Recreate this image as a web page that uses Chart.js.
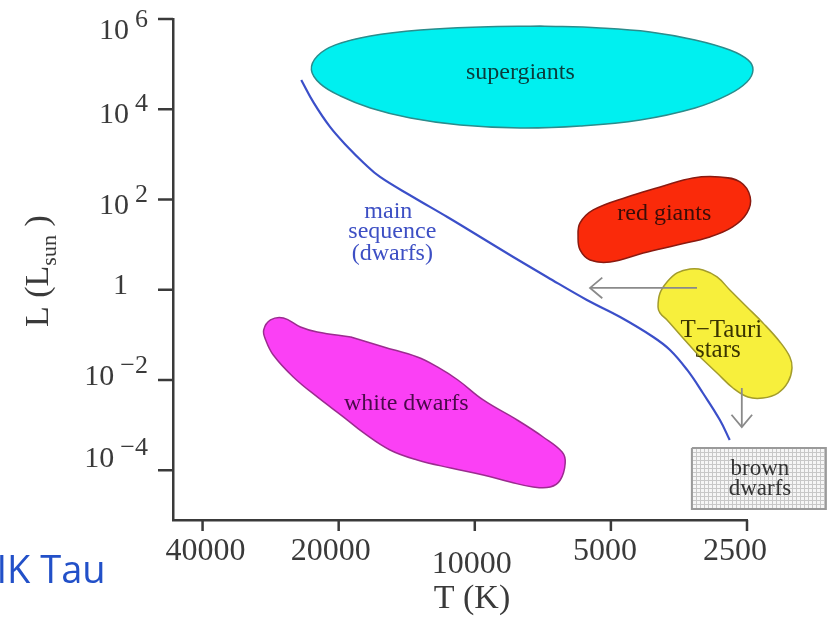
<!DOCTYPE html>
<html><head><meta charset="utf-8">
<script src="https://cdn.jsdelivr.net/npm/chart.js@4.4.1/dist/chart.umd.min.js"></script>
<style>html,body{margin:0;padding:0;background:#fff;}#wrap{width:829px;height:617px;}</style>
</head><body><div id="wrap"><canvas id="c" width="829" height="617"></canvas></div>
<script>
// ---- axes ----
const xRange = [2500, 46500];          // T (K), reversed
const yRange = [7.9e-6, 1e6];          // L (Lsun)
const xTickValues = [40000, 20000, 10000, 5000, 2500];
const xTickLabels = ['40000', '20000', '10000', '5000', '2500'];
const yTickValues = [1e6, 1e4, 1e2, 1, 1e-2, 1e-4];
const yTickBase = ['10', '10', '10', '1', '10', '10'];
const yTickExp = ['6', '4', '2', '', '\u22122', '\u22124'];

// ---- main sequence ----
const msT = [24200, 22700, 20900, 19100, 17600, 16200, 13700, 11500, 9720, 8220, 6920, 5650, 4770, 4030, 3700, 3390, 3130, 2870, 2730];
const msL = [44700, 13800, 4060, 1460, 646, 316, 114, 41, 14.8, 5.33, 1.92, 0.594, 0.249, 0.0899, 0.0463, 0.0167, 0.00515, 0.0013, 0.000468];

// ---- region outlines ----
const sgT = [7167, 5279, 4096, 3257, 2728, 2488, 2425, 2501, 2755, 3257, 4308, 5847, 7930, 10770, 13880, 17020, 19820, 21950, 22980, 22290, 20330, 17020, 13200, 9723, 7167];
const sgL = [703000, 635000, 518000, 344000, 206000, 124000, 74400, 40300, 20800, 10700, 5800, 4270, 3860, 4500, 6420, 10700, 19700, 36400, 74400, 152000, 267000, 422000, 573000, 668000, 703000];

const rgT = [3890, 3290, 2870, 2590, 2460, 2500, 2690, 3020, 3570, 4240, 5020, 5560, 5850, 5910, 5850, 5470, 4600, 3890];
const rgL = [190, 301, 316, 245, 114, 50.4, 24.6, 14.8, 9.84, 6.53, 4.13, 4.57, 7.62, 14.8, 30.2, 58.7, 114, 190];

const ttT = [3175, 3464, 3756, 3893, 3933, 3893, 3756, 3569, 3341, 3128, 2912, 2728, 2501, 2305, 2114, 2010, 1988, 2028, 2135, 2305, 2488, 2685, 2912, 3175];
const ttL = [0.0324, 0.0853, 0.214, 0.306, 0.415, 0.849, 1.49, 2.36, 2.89, 2.75, 1.92, 0.989, 0.415, 0.184, 0.0697, 0.0324, 0.0185, 0.00904, 0.00515, 0.00399, 0.00420, 0.00665, 0.0143, 0.0324];

const wdT = [18800, 15900, 13400, 12100, 10900, 9580, 8060, 7060, 6410, 6310, 6470, 6810, 7430, 8350, 9580, 11300, 13400, 15400, 17600, 19500, 22300, 25200, 27900, 29000, 29300, 28300, 26500, 24300, 22300, 18800];
const wdL = [0.090, 0.054, 0.0324, 0.0195, 0.0100, 0.00361, 0.00130, 0.000546, 0.000254, 0.000145, 6.08e-5, 4.26e-5, 4.26e-5, 5.48e-5, 7.85e-5, 1.12e-4, 1.69e-4, 2.81e-4, 6.70e-4, 1.51e-3, 4.21e-3, 0.0117, 0.0359, 0.0771, 0.128, 0.214, 0.237, 0.150, 0.116, 0.090];

const bdT = [3310, 1673, 1673, 3310, 3310];
const bdL = [3.11e-4, 3.11e-4, 1.38e-5, 1.38e-5, 3.11e-4];

// ---- arrows ----
const arrowLeftT = [3225, 5560];
const arrowLeftL = [1.1, 1.1];
const arrowDownT = [2567, 2567];
const arrowDownL = [0.00665, 0.000908];

// ---- labels ----
const labelText = ['supergiants', 'red giants', 'T\u2212Tauri', 'stars', 'white dwarfs', 'main', 'sequence', '(dwarfs)', 'brown', 'dwarfs'];
const labelT = [7930, 3810, 2850, 2900, 14170, 15530, 15220, 15220, 2340, 2340];
const labelL = [47000, 35.2, 0.0899, 0.0324, 0.00216, 39.0, 14.1, 4.57, 7.85e-5, 2.82e-5];

// ---- styling (not data) ----
const labelColor = ['#0b3b3b', '#3a0d08', '#3a3400', '#3a3400', '#4a0a4a', '#3d4fc4', '#3d4fc4', '#3d4fc4', '#333333', '#333333'];
const labelFont = ['24px "Liberation Serif"', '24px "Liberation Serif"', '25px "Liberation Serif"', '25px "Liberation Serif"', '24px "Liberation Serif"', '24px "Liberation Serif"', '24px "Liberation Serif"', '24px "Liberation Serif"', '23px "Liberation Serif"', '23px "Liberation Serif"'];
const xLabelNudge = [[3, 0], [-8, 0], [-3, 13], [-6, 0], [-12, 0]];
const yLabelNudge = [12, 6, 7, -4, -3, -11];
const AXIS = '#3a3a3a';

function pts(T, L) { return T.map((t, i) => ({x: t, y: L[i]})); }

const canvas = document.getElementById('c');
function gridPattern() {
  const c = document.createElement('canvas'); c.width = 4; c.height = 4;
  const g = c.getContext('2d');
  g.fillStyle = '#f6f6f6'; g.fillRect(0, 0, 4, 4);
  g.fillStyle = '#c8c8c8'; g.fillRect(0, 0, 4, 1); g.fillRect(0, 0, 1, 4);
  return canvas.getContext('2d').createPattern(c, 'repeat');
}

const base = {showLine: true, pointRadius: 0, pointHoverRadius: 0, clip: false, capBezierPoints: false, fill: false};
const datasets = [
  {...base, label: 'arrow left', data: pts(arrowLeftT, arrowLeftL), borderColor: '#8a8a8a', borderWidth: 1.8, tension: 0, arrowHead: true},
  {...base, label: 'arrow down', data: pts(arrowDownT, arrowDownL), borderColor: '#8a8a8a', borderWidth: 1.8, tension: 0, arrowHead: true},
  {...base, label: 'main sequence', data: pts(msT, msL), borderColor: '#3b4fc9', borderWidth: 2.2, tension: 0.4},
  {...base, label: 'T-Tauri stars', data: pts(ttT, ttL), borderColor: '#a39c2c', borderWidth: 1.5, tension: 0.4, shapeFill: '#f7ef3c'},
  {...base, label: 'red giants', data: pts(rgT, rgL), borderColor: '#8a1a10', borderWidth: 1.5, tension: 0.4, shapeFill: '#fa2a0a'},
  {...base, label: 'white dwarfs', data: pts(wdT, wdL), borderColor: '#9b2c8f', borderWidth: 1.5, tension: 0.4, shapeFill: '#fb40f5'},
  {...base, label: 'supergiants', data: pts(sgT, sgL), borderColor: '#2b8c8c', borderWidth: 1.5, tension: 0.4, shapeFill: '#00f0f0'},
  {...base, label: 'brown dwarfs', data: pts(bdT, bdL), borderColor: '#9a9a9a', borderWidth: 2, tension: 0, shapeFill: gridPattern()}
];

const decor = {
  id: 'decor',
  beforeDraw(chart) {
    const c = chart.ctx; c.save(); c.fillStyle = '#fff'; c.fillRect(0, 0, chart.width, chart.height); c.restore();
  },
  beforeDatasetDraw(chart, args) {
    const ds = chart.data.datasets[args.index];
    if (!ds.shapeFill) return;
    const line = args.meta.dataset;
    if (!line) return;
    line.updateControlPoints(chart.chartArea, 'x');
    const c = chart.ctx;
    c.save(); c.beginPath(); line.path(c); c.closePath();
    c.fillStyle = ds.shapeFill; c.fill(); c.restore();
  },
  afterDatasetDraw(chart, args) {
    const ds = chart.data.datasets[args.index];
    if (!ds.arrowHead) return;
    const p = args.meta.data;
    const a = p[p.length - 2], b = p[p.length - 1];
    const ang = Math.atan2(b.y - a.y, b.x - a.x);
    const len = 16, spread = 0.7;
    const c = chart.ctx;
    c.save(); c.strokeStyle = ds.borderColor; c.lineWidth = ds.borderWidth; c.beginPath();
    c.moveTo(b.x - len * Math.cos(ang - spread), b.y - len * Math.sin(ang - spread));
    c.lineTo(b.x, b.y);
    c.lineTo(b.x - len * Math.cos(ang + spread), b.y - len * Math.sin(ang + spread));
    c.stroke(); c.restore();
  },
  afterDraw(chart) {
    const c = chart.ctx, xs = chart.scales.x, ys = chart.scales.y, area = chart.chartArea;
    c.save();
    c.strokeStyle = AXIS; c.lineWidth = 2.5; c.fillStyle = AXIS;
    // tick marks
    yTickValues.forEach(v => { const py = ys.getPixelForValue(v); c.beginPath(); c.moveTo(area.left - 15, py); c.lineTo(area.left, py); c.stroke(); });
    xTickValues.forEach(v => { const px = xs.getPixelForValue(v); c.beginPath(); c.moveTo(px, area.bottom); c.lineTo(px, area.bottom + 11); c.stroke(); });
    // x tick labels
    c.font = '32px "Liberation Serif"'; c.textAlign = 'center'; c.textBaseline = 'middle';
    xTickValues.forEach((v, i) => { const px = xs.getPixelForValue(v); c.fillText(xTickLabels[i], px + xLabelNudge[i][0], area.bottom + 32 + xLabelNudge[i][1]); });
    // y tick labels with superscripts
    c.textAlign = 'right';
    yTickValues.forEach((v, i) => {
      const py = ys.getPixelForValue(v) + yLabelNudge[i];
      if (yTickExp[i]) {
        c.font = '26px "Liberation Serif"';
        const w = c.measureText(yTickExp[i]).width;
        c.fillText(yTickExp[i], 148, py - 11);
        c.font = '30px "Liberation Serif"';
        c.fillText(yTickBase[i], 148 - w - 6, py);
      } else {
        c.font = '30px "Liberation Serif"';
        c.fillText(yTickBase[i], 128, py);
      }
    });
    // axis titles
    c.textAlign = 'center'; c.font = '34px "Liberation Serif"';
    c.fillText('T (K)', 472, 599);
    c.translate(48, 327); c.rotate(-Math.PI / 2);
    c.textAlign = 'left'; c.textBaseline = 'alphabetic';
    c.font = '34px "Liberation Serif"';
    const t1 = 'L (L'; c.fillText(t1, 0, 0); let off = c.measureText(t1).width;
    c.font = '22px "Liberation Serif"'; c.fillText('sun', off, 8); off += c.measureText('sun').width;
    c.font = '34px "Liberation Serif"'; c.fillText(' )', off, 0);
    c.setTransform(1, 0, 0, 1, 0, 0);
    // region labels
    c.textAlign = 'center'; c.textBaseline = 'alphabetic';
    labelText.forEach((t, i) => {
      c.font = labelFont[i]; c.fillStyle = labelColor[i];
      c.fillText(t, xs.getPixelForValue(labelT[i]), ys.getPixelForValue(labelL[i]));
    });
    // caption
    c.textAlign = 'left'; c.font = '38px "Open Sans"'; c.fillStyle = '#2250c8';
    c.fillText('IK Tau', -3.5, 583);
    c.restore();
  }
};

const axisOpts = {
  type: 'logarithmic', bounds: 'data',
  ticks: {display: false},
  grid: {display: true, drawOnChartArea: false, drawTicks: false},
  border: {display: true, color: AXIS, width: 2.5}
};

new Chart(canvas, {
  type: 'scatter',
  data: {datasets},
  options: {
    responsive: false, animation: false, devicePixelRatio: 1, events: [],
    layout: {padding: {left: 173, right: 82, top: 19, bottom: 97}},
    plugins: {legend: {display: false}, tooltip: {enabled: false}},
    scales: {
      x: {...axisOpts, reverse: true, min: xRange[0], max: xRange[1]},
      y: {...axisOpts, min: yRange[0], max: yRange[1]}
    }
  },
  plugins: [decor]
});
</script>
</body></html>
